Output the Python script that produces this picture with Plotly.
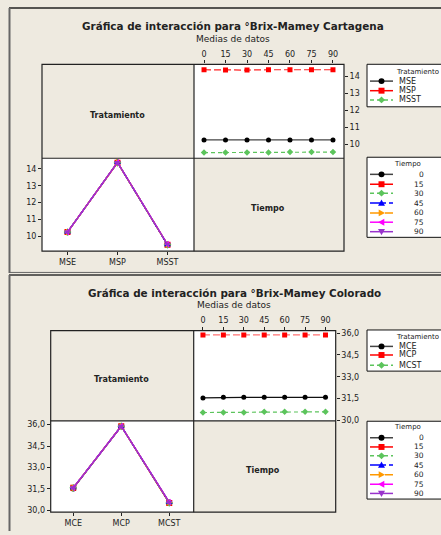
import plotly.graph_objects as go

W, H = 441, 535

# ---------------- data ----------------
tiempo = [0, 15, 30, 45, 60, 75, 90]

# Cartagena
trat1 = ["MSE", "MSP", "MSST"]
mse = [10.25, 10.25, 10.25, 10.25, 10.25, 10.25, 10.25]
msp = [14.38, 14.36, 14.36, 14.38, 14.38, 14.38, 14.38]
msst = [9.50, 9.50, 9.50, 9.50, 9.53, 9.53, 9.53]

# Colorado
trat2 = ["MCE", "MCP", "MCST"]
mce = [31.54, 31.58, 31.58, 31.58, 31.58, 31.58, 31.58]
mcp = [35.88, 35.88, 35.88, 35.88, 35.88, 35.88, 35.88]
mcst = [30.53, 30.53, 30.53, 30.58, 30.58, 30.58, 30.58]

yticks1 = [10, 11, 12, 13, 14]
yticks2 = [30.0, 31.5, 33.0, 34.5, 36.0]

# ---------------- styles ----------------
FONT = "DejaVu Sans"
TXT = "#222222"
BG = "#EEEAE0"
trat_style = [
    dict(color="#000000", line="#444444", symbol="circle", dash="solid"),
    dict(color="#FF0000", line="#FF2020", symbol="square", dash="7px,3px"),
    dict(color="#5CC45C", line="#5CC45C", symbol="diamond", dash="4px,3px"),
]
trat_leg_dash = ["solid", "solid", "4px,3px"]
tiempo_style = [
    dict(color="#000000", symbol="circle", dash="solid"),
    dict(color="#FF0000", symbol="square", dash="solid"),
    dict(color="#5CC45C", symbol="diamond", dash="4px,3px"),
    dict(color="#0000FF", symbol="triangle-up", dash="10px,3px,3px,3px"),
    dict(color="#FF9900", symbol="triangle-right", dash="9px,2px,2px,2px"),
    dict(color="#FF00FF", symbol="triangle-left", dash="solid"),
    dict(color="#9933CC", symbol="triangle-down", dash="solid"),
]


def px(x):
    return x / W


def py(y):
    return 1 - y / H


fig = go.Figure()
shapes = []
annots = []


def note(x, y, text, size, xanchor="center", yanchor="middle"):
    annots.append(dict(x=px(x), y=py(y), xref="paper", yref="paper", showarrow=False,
                       text=text, xanchor=xanchor, yanchor=yanchor,
                       font=dict(size=size, family=FONT, color=TXT)))


def add_block(tr_names, tr_vals, ax_ll, ax_ur, geom, title, line_over=None):
    L, T, MX, MY, R, B = geom["box"]
    xl, yl = ax_ll
    xu, yu = ax_ur
    line_over = line_over or {}
    # upper-right panel: Tratamiento lines across Tiempo
    for k, (name, vals, st) in enumerate(zip(tr_names, tr_vals, trat_style)):
        fig.add_trace(go.Scatter(
            x=tiempo, y=vals, mode="lines+markers", name=name,
            xaxis=xu, yaxis=yu, showlegend=False,
            line=dict(color=line_over.get(k, st["line"]), width=1.2, dash=st["dash"]),
            marker=dict(color=st["color"], symbol=st["symbol"], size=5),
        ))
    # lower-left panel: Tiempo lines across Tratamiento
    for i, t in enumerate(tiempo):
        st = tiempo_style[i]
        fig.add_trace(go.Scatter(
            x=tr_names, y=[v[i] for v in tr_vals], mode="lines+markers",
            name=str(t), xaxis=xl, yaxis=yl, showlegend=False,
            line=dict(color=st["color"], width=1.3, dash=st["dash"]),
            marker=dict(color=st["color"], symbol=st["symbol"], size=6),
        ))
    ln = dict(color="#222222", width=1.2)
    shapes.append(dict(type="rect", xref="paper", yref="paper", x0=px(L), x1=px(R),
                       y0=py(B), y1=py(T), line=ln, layer="above"))
    shapes.append(dict(type="line", xref="paper", yref="paper", x0=px(MX), x1=px(MX),
                       y0=py(B), y1=py(T), line=ln, layer="above"))
    shapes.append(dict(type="line", xref="paper", yref="paper", x0=px(L), x1=px(R),
                       y0=py(MY), y1=py(MY), line=ln, layer="above"))
    tx, ty, sy = geom["title"]
    note(tx, ty, "<b>" + title + "</b>", 10.4)
    note(tx, sy, "Medias de datos", 9)
    lx, ly = geom["lab_trat"]
    note(lx, ly, "<b>Tratamiento</b>", 8)
    lx, ly = geom["lab_tiempo"]
    note(lx, ly, "<b>Tiempo</b>", 8)

    def sample(yc, color, lcolor, symbol, dash, x0=370, x1=393, xc=381.5):
        shapes.append(dict(type="line", xref="paper", yref="paper", x0=px(x0), x1=px(x1),
                           y0=py(yc), y1=py(yc), line=dict(color=lcolor, width=1.5, dash=dash),
                           layer="above"))
        r = 3
        if symbol == "circle":
            shapes.append(dict(type="circle", xref="paper", yref="paper", x0=px(xc - r), x1=px(xc + r),
                               y0=py(yc + r), y1=py(yc - r), fillcolor=color, line=dict(width=0),
                               layer="above"))
        elif symbol == "square":
            shapes.append(dict(type="rect", xref="paper", yref="paper", x0=px(xc - r), x1=px(xc + r),
                               y0=py(yc + r), y1=py(yc - r), fillcolor=color, line=dict(width=0),
                               layer="above"))
        else:
            r = 3.5
            pts = {
                "diamond": [(0, -r), (r, 0), (0, r), (-r, 0)],
                "triangle-up": [(0, -r), (r, r * 0.8), (-r, r * 0.8)],
                "triangle-down": [(0, r), (r, -r * 0.8), (-r, -r * 0.8)],
                "triangle-right": [(r, 0), (-r * 0.8, -r), (-r * 0.8, r)],
                "triangle-left": [(-r, 0), (r * 0.8, -r), (r * 0.8, r)],
            }[symbol]
            path = "M " + " L ".join(f"{px(xc + dx):.5f},{py(yc + dy):.5f}" for dx, dy in pts) + " Z"
            shapes.append(dict(type="path", xref="paper", yref="paper", path=path,
                               fillcolor=color, line=dict(width=0), layer="above"))

    def box(top, bottom):
        shapes.append(dict(type="rect", xref="paper", yref="paper", x0=px(367), x1=1,
                           y0=py(bottom), y1=py(top), line=dict(width=0),
                           fillcolor="white", layer="below"))
        for yy in (top, bottom):
            shapes.append(dict(type="line", xref="paper", yref="paper", x0=px(367), x1=1,
                               y0=py(yy), y1=py(yy), line=dict(color="#111111", width=1)))
        shapes.append(dict(type="line", xref="paper", yref="paper", x0=px(367), x1=px(367),
                           y0=py(bottom), y1=py(top), line=dict(color="#111111", width=1)))

    bt, bb = geom["leg_trat_box"]
    box(bt, bb)
    tty, ys = geom["leg_trat"]
    note(417.5, tty, "Tratamiento", 7)
    for name, yc, st, dsh in zip(tr_names, ys, trat_style, trat_leg_dash):
        sample(yc, st["color"], st["line"] if st["color"] == "#000000" else st["color"],
               st["symbol"], dsh)
        note(397, yc, name, 8, xanchor="left")
    bt, bb = geom["leg_tiempo_box"]
    box(bt, bb)
    tty, ys = geom["leg_tiempo"]
    note(407, tty, "Tiempo", 7)
    for i, (t, yc) in enumerate(zip(tiempo, ys)):
        st = tiempo_style[i]
        lc = "#444444" if st["color"] == "#000000" else st["color"]
        sample(yc, st["color"], lc, st["symbol"], st["dash"])
        note(426, yc, str(t), 7.5, xanchor="right")


geom1 = dict(box=(42, 63, 194, 158, 344, 252), title=(233.5, 24, 37),
             lab_trat=(117, 115), lab_tiempo=(268, 209),
             leg_trat_box=(63, 106), leg_trat=(71, [80, 89.7, 99]),
             leg_tiempo_box=(157, 238),
             leg_tiempo=(164, [174.3, 184.3, 193.3, 203.3, 213.3, 222.7, 232.3]))
geom2 = dict(box=(50.7, 332.3, 193.7, 423.7, 335.7, 516), title=(234, 294, 306),
             lab_trat=(121, 382), lab_tiempo=(263, 474),
             leg_trat_box=(331.7, 373.3), leg_trat=(339.3, [348.3, 357, 367.3]),
             leg_tiempo_box=(424, 502.7),
             leg_tiempo=(430, [440.7, 450, 459, 468.3, 478, 487.7, 497]))

add_block(trat1, [mse, msp, msst], ("x", "y"), ("x2", "y2"), geom1,
          "Gráfica de interacción para °Brix-Mamey Cartagena")
add_block(trat2, [mce, mcp, mcst], ("x3", "y3"), ("x4", "y4"), geom2,
          "Gráfica de interacción para °Brix-Mamey Colorado",
          line_over={0: "#111111", 1: "#FF7070"})

# outer frames of the two exported graphs (cut at the right edge of the picture)
shapes += [
    dict(type="line", xref="paper", yref="paper", x0=px(9), x1=1, y0=py(6), y1=py(6),
         line=dict(color="#222222", width=1.5)),
    dict(type="line", xref="paper", yref="paper", x0=px(9.5), x1=px(9.5), y0=py(6), y1=py(274),
         line=dict(color="#666666", width=2)),
    dict(type="line", xref="paper", yref="paper", x0=px(9), x1=1, y0=py(273.5), y1=py(273.5),
         line=dict(color="#666666", width=1)),
    dict(type="line", xref="paper", yref="paper", x0=px(9), x1=1, y0=py(276), y1=py(276),
         line=dict(color="#333333", width=1.5)),
    dict(type="line", xref="paper", yref="paper", x0=px(9.5), x1=px(9.5), y0=py(276), y1=0,
         line=dict(color="#666666", width=2)),
]

tickfont = dict(size=8, family=FONT, color=TXT)
common = dict(showgrid=False, zeroline=False, showline=False, ticks="outside", ticklen=3,
              tickcolor="#222222", tickfont=tickfont, fixedrange=True)

fig.update_layout(
    width=W, height=H, margin=dict(l=0, r=0, t=0, b=0),
    paper_bgcolor=BG, plot_bgcolor="white", separators=",.",
    showlegend=False, shapes=shapes, annotations=annots,
    xaxis=dict(domain=[px(42), px(194)], anchor="y", type="category",
               categoryorder="array", categoryarray=trat1, range=[-0.51, 2.53], **common),
    yaxis=dict(domain=[py(252), py(158)], anchor="x", range=[9.12, 14.63],
               tickvals=yticks1, **common),
    xaxis2=dict(domain=[px(194), px(344)], anchor="y2", side="top", range=[-7, 97.7],
                tickvals=tiempo, **common),
    yaxis2=dict(domain=[py(158), py(63)], anchor="x2", side="right", range=[9.17, 14.70],
                tickvals=yticks1, **common),
    xaxis3=dict(domain=[px(50.7), px(193.7)], anchor="y3", type="category",
                categoryorder="array", categoryarray=trat2, range=[-0.47, 2.51], **common),
    yaxis3=dict(domain=[py(516), py(423.7)], anchor="x3", range=[29.88, 36.25],
                tickvals=yticks2, tickformat=".1f", **common),
    xaxis4=dict(domain=[px(193.7), px(335.7)], anchor="y4", side="top", range=[-6.8, 97.5],
                tickvals=tiempo, **common),
    yaxis4=dict(domain=[py(423.7), py(332.3)], anchor="x4", side="right", range=[29.95, 36.18],
                tickvals=yticks2, tickformat=".1f", **common),
)

fig.write_html("out.html", config={"displayModeBar": False},
               post_script="document.body.style.margin='0';"
                           "document.body.style.overflow='hidden';"
                           "document.documentElement.style.overflow='hidden';")
